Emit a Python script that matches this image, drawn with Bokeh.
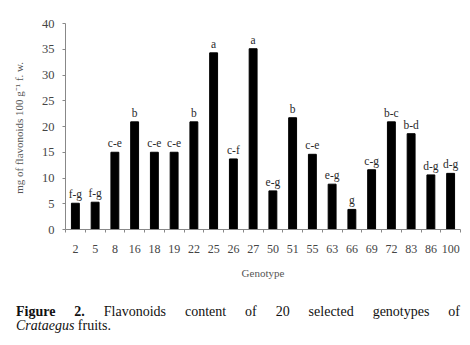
import numpy as np
from bokeh.plotting import figure
from bokeh.models import ColumnDataSource, Range1d, FixedTicker, Div
from bokeh.layouts import column
from bokeh.embed import file_html
from bokeh.resources import INLINE

genotypes = ["2", "5", "8", "16", "18", "19", "22", "25", "26", "27",
             "50", "51", "55", "63", "66", "69", "72", "83", "86", "100"]
flavonoids = [5.1, 5.3, 15.0, 20.9, 15.0, 15.0, 20.9, 34.3, 13.7, 35.1,
              7.5, 21.7, 14.6, 8.8, 3.9, 11.6, 20.9, 18.6, 10.6, 10.9]
letters = ["f-g", "f-g", "c-e", "b", "c-e", "c-e", "b", "a", "c-f", "a",
           "e-g", "b", "c-e", "e-g", "g", "c-g", "b-c", "b-d", "d-g", "d-g"]
y_ticks = [0, 5, 10, 15, 20, 25, 30, 35, 40]

n = len(genotypes)
xpos = np.arange(n) + 0.5
src = ColumnDataSource(dict(x=xpos, y=flavonoids, lab=letters))

SERIF = "Liberation Serif"
GRAY = "#444444"

p = figure(width=462, height=285, output_backend="svg", toolbar_location=None,
           x_range=Range1d(0, n), y_range=Range1d(0, 40),
           min_border_left=65, min_border_right=2, min_border_top=23,
           min_border_bottom=56)
p.outline_line_color = None
p.xgrid.grid_line_color = None
p.ygrid.grid_line_color = None
p.background_fill_color = "white"
p.border_fill_color = "white"

p.vbar(x="x", top="y", width=0.4, bottom=0, source=src,
       fill_color="black", line_color="black")
p.text(x="x", y="y", text="lab", source=src, text_align="center",
       text_baseline="bottom", y_offset=-3, text_font_size="11.5px",
       text_font={"value": SERIF}, text_color="#2a2a2a")

# x axis: labels at centres, ticks at category boundaries
xa = p.xaxis[0]
xa.ticker = FixedTicker(ticks=list(xpos), minor_ticks=list(np.arange(n + 1)))
xa.major_label_overrides = {float(x): g for x, g in zip(xpos, genotypes)}
xa.major_tick_line_color = None
xa.minor_tick_line_color = "#888888"
xa.minor_tick_out = 3
xa.minor_tick_in = 0
xa.axis_line_color = "#888888"
xa.major_label_text_font = SERIF
xa.major_label_text_font_size = "12px"
xa.major_label_text_color = GRAY
xa.major_label_standoff = 9
xa.axis_label = "Genotype"
xa.axis_label_text_font = SERIF
xa.axis_label_text_font_style = "normal"
xa.axis_label_text_font_size = "11px"
xa.axis_label_text_color = "#555555"
xa.axis_label_standoff = 11

ya = p.yaxis[0]
ya.ticker = FixedTicker(ticks=y_ticks)
ya.minor_tick_line_color = None
ya.major_tick_line_color = "#888888"
ya.major_tick_out = 3
ya.major_tick_in = 0
ya.axis_line_color = "#888888"
ya.major_label_text_font = SERIF
ya.major_label_text_font_size = "12.5px"
ya.major_label_text_color = GRAY
ya.major_label_standoff = 8
ya.axis_label = "mg of flavonoids 100 g\u207b\u00b9  f. w."
ya.axis_label_text_font = SERIF
ya.axis_label_text_font_style = "normal"
ya.axis_label_text_font_size = "11px"
ya.axis_label_text_color = "#555555"
ya.axis_label_standoff = 14

caption_html = (
    '<div style="font-family: \'Liberation Serif\', serif; font-size: 14px; '
    'line-height: 14px; color: #111; padding: 20px 0 0 16px; '
    'box-sizing: border-box; width: 460px;">'
    '<div style="text-align: justify; text-align-last: justify;">'
    '<b>Figure 2.</b> Flavonoids content of 20 selected genotypes of</div>'
    '<div><i>Crataegus</i> fruits.</div></div>'
)
cap = Div(text=caption_html, width=462, height=52, margin=(0, 0, 0, 0))

layout = column(p, cap, spacing=0)
open("out.html", "w").write(file_html(layout, INLINE))
